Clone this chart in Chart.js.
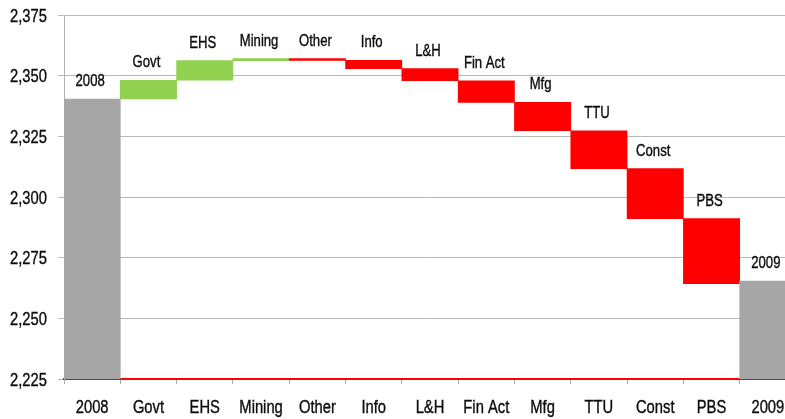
<!DOCTYPE html>
<html>
<head>
<meta charset="utf-8">
<script src="https://cdn.jsdelivr.net/npm/chart.js@4.4.1/dist/chart.umd.min.js"></script>
<style>
  html, body { margin: 0; padding: 0; background: #fff; overflow: hidden; }
  #wrap { width: 800px; height: 419px; position: relative; }
</style>
</head>
<body>
<div id="wrap"><canvas id="c" width="800" height="419"></canvas></div>
<script>
// Categories (x-axis labels and bar labels)
const categories = ['2008', 'Govt', 'EHS', 'Mining', 'Other', 'Info', 'L&H', 'Fin Act', 'Mfg', 'TTU', 'Const', 'PBS', '2009'];
// Bar start level (thousands) for each category
const barStarts = [2225, 2340.4, 2348.1, 2356.2, 2357.0, 2356.3, 2352.9, 2347.9, 2339.0, 2327.3, 2311.7, 2291.1, 2225];
// Bar end level for each category
const barEnds = [2340.4, 2348.1, 2356.2, 2357.0, 2356.3, 2352.9, 2347.9, 2339.0, 2327.3, 2311.7, 2291.1, 2264.3, 2265.4];
// Which bars are totals
const isTotal = [true, false, false, false, false, false, false, false, false, false, false, false, true];
// Y axis ticks
const yMin = 2225, yMax = 2375, yStep = 25;

const GREY = '#A6A6A6', GREEN = '#92D050', RED = '#FF0000';
const FONT = "'Liberation Sans', Arial, sans-serif";
const NARROW = 0.82; // Arial Narrow look: horizontally condensed Arial metrics

function narrowText(ctx, text, x, y, size, align) {
  ctx.save();
  ctx.font = size + 'px ' + FONT;
  const w = ctx.measureText(text).width * NARROW;
  let left = x;
  if (align === 'center') left = x - w / 2;
  else if (align === 'right') left = x - w;
  ctx.translate(left, y);
  ctx.scale(NARROW, 1);
  ctx.textAlign = 'left';
  ctx.textBaseline = 'alphabetic';
  ctx.lineWidth = 0.35;
  ctx.strokeText(text, 0, 0);
  ctx.fillText(text, 0, 0);
  ctx.restore();
}

const colors = categories.map((c, i) => isTotal[i] ? GREY : (barEnds[i] >= barStarts[i] ? GREEN : RED));

const textPlugin = {
  id: 'narrowTexts',
  afterDraw(chart) {
    const ctx = chart.ctx;
    const xs = chart.scales.x, ys = chart.scales.y;
    ctx.save();
    ctx.fillStyle = '#0a0a0a';
    ctx.strokeStyle = '#0a0a0a';
    // y tick labels
    ys.ticks.forEach(t => {
      const py = ys.getPixelForValue(t.value);
      narrowText(ctx, t.value.toLocaleString('en-US'), 47, py + 6.5, 18, 'right');
    });
    // x tick labels
    categories.forEach((c, i) => {
      narrowText(ctx, c, xs.getPixelForValue(i), 413, 18, 'center');
    });
    // bar labels
    const meta = chart.getDatasetMeta(0);
    meta.data.forEach((el, i) => {
      const top = Math.min(el.y, el.base);
      narrowText(ctx, categories[i], el.x - 2, top - 13, 16, 'center');
    });
    ctx.restore();
  }
};

new Chart(document.getElementById('c'), {
  type: 'bar',
  data: {
    labels: categories,
    datasets: [{
      data: categories.map((c, i) => [barStarts[i], barEnds[i]]),
      backgroundColor: colors,
      borderWidth: 0,
      barPercentage: 1,
      categoryPercentage: 1
    }]
  },
  options: {
    responsive: false,
    animation: false,
    events: [],
    layout: { padding: { top: 15, right: 4, left: 0, bottom: 0 } },
    plugins: { legend: { display: false }, tooltip: { enabled: false } },
    scales: {
      x: {
        grid: { display: true, drawOnChartArea: false, drawTicks: true, tickLength: 5, color: '#A8A8A8', offset: true },
        border: { display: true, color: RED, width: 2 },
        ticks: { display: false, autoSkip: false },
        afterFit(s) { s.height = 40; }
      },
      y: {
        min: yMin, max: yMax,
        grid: { color: '#B8B8B8', lineWidth: 1, tickLength: 6 },
        border: { display: true, color: '#B0B0B0', width: 1 },
        ticks: { stepSize: yStep, display: false },
        afterFit(s) { s.width = 64; }
      }
    }
  },
  plugins: [textPlugin]
});
</script>
</body>
</html>
